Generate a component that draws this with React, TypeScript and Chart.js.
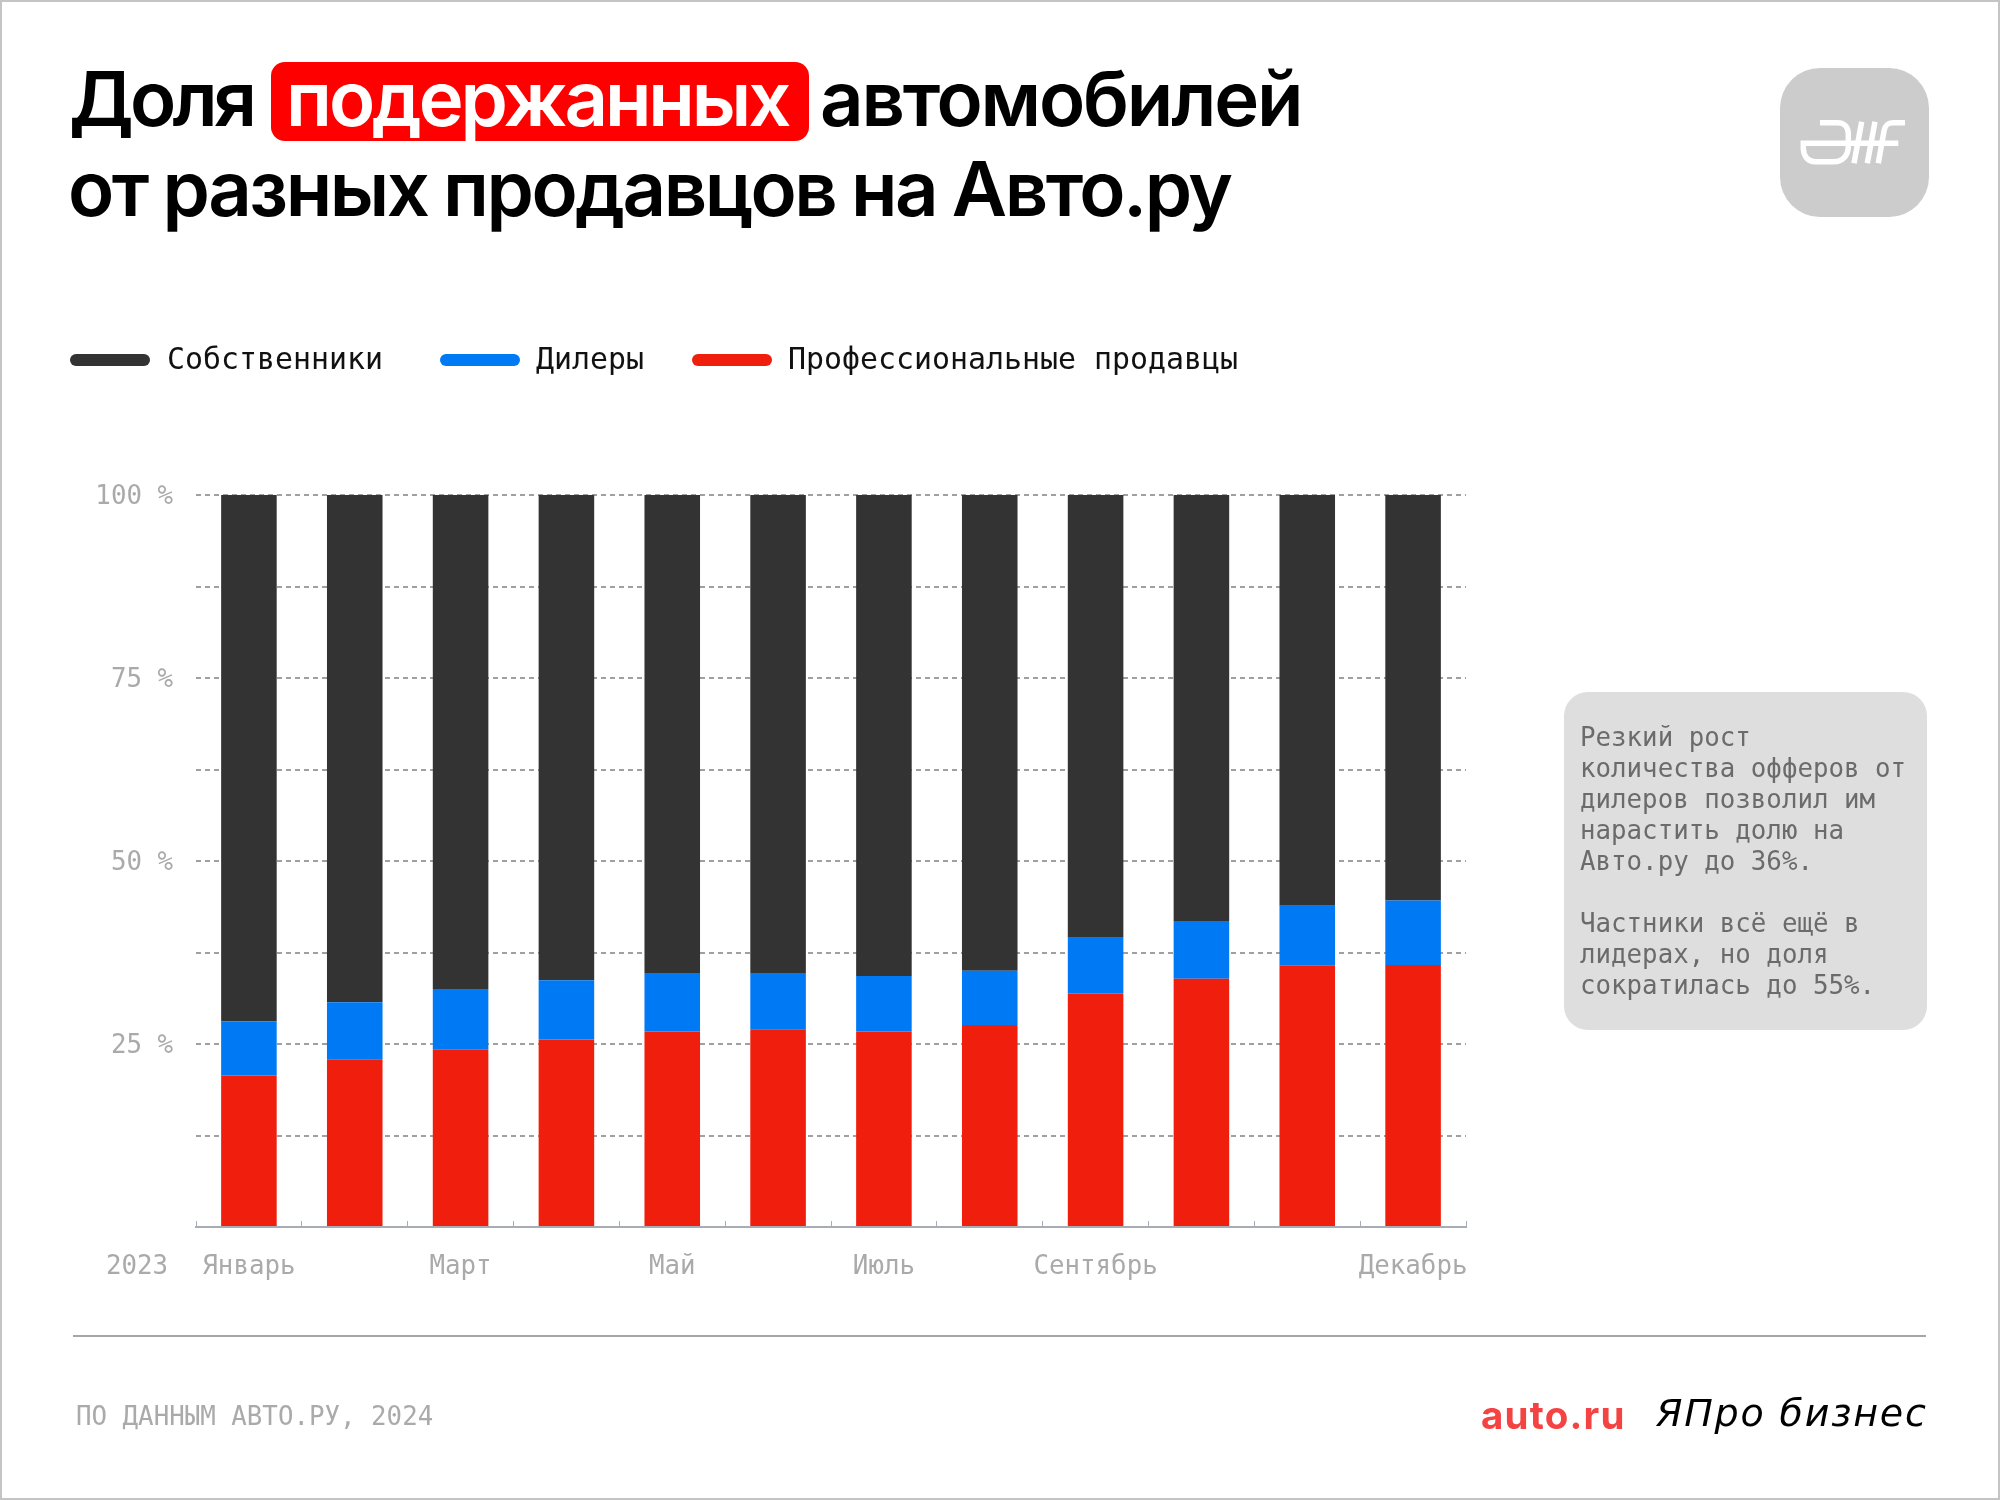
import { useEffect, useRef } from 'react';
import { Chart, registerables } from 'chart.js';

Chart.register(...registerables);

const months = ['Январь', '', 'Март', '', 'Май', '', 'Июль', '', 'Сентябрь', '', '', 'Декабрь'];
const professionals = [20.7, 22.9, 24.2, 25.6, 26.7, 27.0, 26.7, 27.6, 31.9, 33.9, 35.7, 35.8];
const dealers = [7.4, 7.8, 8.3, 8.1, 8.0, 7.7, 7.6, 7.4, 7.6, 7.9, 8.2, 8.8];
const owners = [71.9, 69.3, 67.5, 66.3, 65.3, 65.3, 65.7, 65.0, 60.5, 58.2, 56.1, 55.4];

const MONO = '"DejaVu Sans Mono", monospace';
const SANS = 'Inter, sans-serif';
const GREY = '#aaaaaa';

const abs = (left: number, top: number, extra: object = {}) => ({
  position: 'absolute' as const,
  left,
  top,
  whiteSpace: 'pre' as const,
  ...extra,
});

const titleFont = {
  fontFamily: SANS,
  fontSize: 76,
  fontWeight: 560,
  lineHeight: '90px',
  letterSpacing: -2.2,
  color: '#000',
};
const legendFont = { fontFamily: MONO, fontSize: 29.9, lineHeight: '36px', color: '#111' };
const smallFont = { fontFamily: MONO, fontSize: 25.8, lineHeight: '30px', color: GREY };

const App = () => {
  const canvasRef = useRef<HTMLCanvasElement>(null);

  useEffect(() => {
    if (!canvasRef.current) return;
    const chart = new Chart(canvasRef.current, {
      type: 'bar',
      data: {
        labels: months,
        datasets: [
          { label: 'Профессиональные продавцы', data: professionals, backgroundColor: '#f01f0d' },
          { label: 'Дилеры', data: dealers, backgroundColor: '#0079f5' },
          { label: 'Собственники', data: owners, backgroundColor: '#333333' },
        ],
      },
      options: {
        responsive: false,
        animation: false,
        layout: { padding: { top: 495, right: 534, left: 0, bottom: 0 } },
        plugins: { legend: { display: false }, title: { display: false }, tooltip: { enabled: false } },
        datasets: { bar: { categoryPercentage: 1, barPercentage: 0.525 } },
        scales: {
          x: {
            stacked: true,
            afterFit: (scale: any) => {
              scale.height = 273;
            },
            border: { color: '#a8adb5', width: 2 },
            grid: { drawOnChartArea: false, tickLength: -6, tickColor: '#a8adb5', tickWidth: 1 },
            ticks: {
              autoSkip: false,
              maxRotation: 0,
              padding: 31,
              color: GREY,
              font: { family: MONO, size: 25.8 },
            },
          },
          y: {
            stacked: true,
            min: 0,
            max: 100,
            afterFit: (scale: any) => {
              scale.width = 196;
            },
            border: { display: false, dash: [5, 4] },
            grid: {
              color: (ctx: any) => (ctx.tick.value === 0 ? 'transparent' : '#a0a0a0'),
              lineWidth: 2,
              drawTicks: false,
            },
            ticks: {
              stepSize: 12.5,
              padding: 23,
              labelOffset: 2.5,
              color: GREY,
              font: { family: MONO, size: 25.8 },
              callback: (value: any) => (value > 0 && value % 25 === 0 ? `${value} %` : ''),
            },
          },
        },
      },
    });
    return () => chart.destroy();
  }, []);

  return (
    <div style={{ position: 'absolute', left: 0, top: 0, width: 2000, height: 1500, background: '#fff', overflow: 'hidden' }}>
      <canvas ref={canvasRef} width={2000} height={1500} style={{ position: 'absolute', left: 0, top: 0 }} />
      <div style={{ position: 'absolute', inset: 0, border: '2px solid #c4c4c4', boxSizing: 'border-box' }} />

      <div style={abs(271, 62, { width: 538, height: 79, background: '#ff0000', borderRadius: 14 })} />
      <div style={abs(69, 53, { ...titleFont, letterSpacing: -3.8 })}>Доля</div>
      <div style={abs(286, 53, { ...titleFont, color: '#fff', letterSpacing: -3.1 })}>подержанных</div>
      <div style={abs(820, 53, titleFont)}>автомобилей</div>
      <div style={abs(68, 143, { ...titleFont, letterSpacing: -2.5, wordSpacing: -1 })}>от разных продавцов на Авто.ру</div>

      <div style={abs(1780, 68, { width: 149, height: 149, background: '#cccccc', borderRadius: 40 })} />
      <svg style={abs(1780, 68)} width={149} height={149} fill="none" stroke="#fff" strokeWidth={5.5}>
        <path d="M40 54.7 H58 C 64 54.7, 68.3 59, 68.3 66 V 78 C 68.3 88, 62 93.7, 54 93.7 H 35 C 28 93.7, 23.3 88, 23.3 80 V 75.3 H 118.3" />
        <path d="M81.7 53.7 L74 95.3 M95 53.7 L87.3 95.3" />
        <path d="M125 54.7 H 113 C 107 54.7, 105 58, 104 63 L 98.3 95.3" />
      </svg>

      <div style={abs(70, 354, { width: 80, height: 12, borderRadius: 6, background: '#333333' })} />
      <div style={abs(167, 341, legendFont)}>Собственники</div>
      <div style={abs(440, 354, { width: 80, height: 12, borderRadius: 6, background: '#0079f5' })} />
      <div style={abs(536, 341, legendFont)}>Дилеры</div>
      <div style={abs(692, 354, { width: 80, height: 12, borderRadius: 6, background: '#f01f0d' })} />
      <div style={abs(788, 341, legendFont)}>Профессиональные продавцы</div>

      <div style={abs(106, 1250, smallFont)}>2023</div>

      <div style={abs(1564, 692, { width: 363, height: 338, background: '#dedede', borderRadius: 24 })} />
      <div style={abs(1580, 722, { ...smallFont, lineHeight: '31px', color: '#6b6b6b' })}>
        {'Резкий рост\nколичества офферов от\nдилеров позволил им\nнарастить долю на\nАвто.ру до 36%.\n\nЧастники всё ещё в\nлидерах, но доля\nсократилась до 55%.'}
      </div>

      <div style={abs(73, 1335, { width: 1853, height: 2, background: '#a6a6a6' })} />
      <div style={abs(76, 1401, smallFont)}>ПО ДАННЫМ АВТО.РУ, 2024</div>
      <div style={abs(1481, 1391, { fontFamily: SANS, fontSize: 38.5, fontWeight: 700, lineHeight: '48px', letterSpacing: 1.2, color: '#f44343' })}>auto.ru</div>
      <div style={abs(1656, 1391, { fontFamily: '"DejaVu Sans", sans-serif', fontStyle: 'italic', fontSize: 38, lineHeight: '44px', letterSpacing: 1.8, color: '#000' })}>ЯПро бизнес</div>
    </div>
  );
};

export default App;
